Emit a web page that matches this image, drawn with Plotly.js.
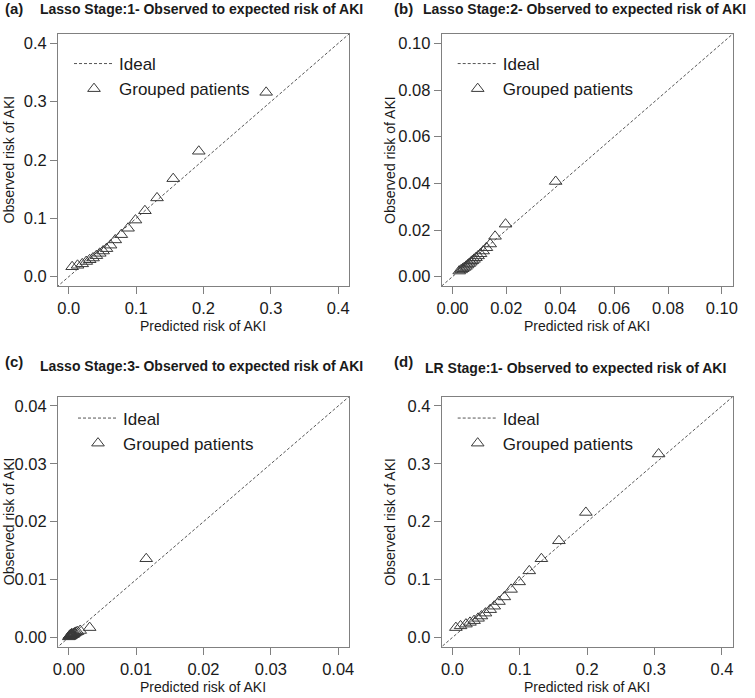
<!DOCTYPE html>
<html>
<head>
<meta charset="utf-8">
<script src="https://cdn.plot.ly/plotly-3.0.1.min.js"></script>
<style>
  html, body { margin: 0; padding: 0; background: #fff; }
  #chart { width: 755px; height: 698px; }
</style>
</head>
<body>
<div id="chart"></div>
<script>
// --- data ---
// (a) Lasso stage 1
const lasso1Pred = [0.005, 0.013, 0.020, 0.026, 0.031, 0.036, 0.041, 0.046, 0.051, 0.056, 0.062, 0.069, 0.078, 0.088, 0.099, 0.113, 0.131, 0.155, 0.193, 0.293];
const lasso1Obs  = [0.017, 0.0195, 0.022, 0.026, 0.029, 0.032, 0.036, 0.040, 0.044, 0.048, 0.054, 0.063, 0.072, 0.083, 0.097, 0.113, 0.135, 0.168, 0.215, 0.316];

// (b) Lasso stage 2
const lasso2Pred = [0.0025, 0.0032, 0.0038, 0.0044, 0.0050, 0.0056, 0.0062, 0.0068, 0.0074, 0.0080, 0.0087, 0.0095, 0.0104, 0.0114, 0.0126, 0.0140, 0.0158, 0.0197, 0.0383];
const lasso2Obs  = [0.0024, 0.0029, 0.0034, 0.0039, 0.0044, 0.0050, 0.0056, 0.0062, 0.0068, 0.0074, 0.0081, 0.0089, 0.0098, 0.0110, 0.0124, 0.0140, 0.0173, 0.0225, 0.0408];

// (c) Lasso stage 3
const lasso3Pred = [0.0000, 0.0001, 0.0001, 0.0002, 0.0002, 0.0003, 0.0003, 0.0004, 0.0004, 0.0005, 0.0005, 0.0006, 0.0007, 0.0008, 0.0009, 0.0011, 0.0013, 0.0017, 0.0031, 0.0115];
const lasso3Obs  = [0.0001, 0.0002, 0.0003, 0.0002, 0.0004, 0.0003, 0.0005, 0.0004, 0.0006, 0.0005, 0.0006, 0.0005, 0.0006, 0.0007, 0.0008, 0.0009, 0.0010, 0.0012, 0.0017, 0.0136];

// (d) LR stage 1
const lr1Pred = [0.005, 0.012, 0.020, 0.026, 0.032, 0.038, 0.043, 0.049, 0.056, 0.062, 0.069, 0.077, 0.087, 0.099, 0.114, 0.132, 0.158, 0.198, 0.306];
const lr1Obs  = [0.017, 0.020, 0.023, 0.026, 0.029, 0.033, 0.037, 0.042, 0.048, 0.054, 0.062, 0.070, 0.083, 0.096, 0.115, 0.136, 0.167, 0.216, 0.317];

// ideal y = x line, clipped by the plot area
const ideal = [-1, 1];

const panelLabels = ['(a)', '(b)', '(c)', '(d)'];
const panelTitles = [
    'Lasso Stage:1- Observed to expected risk of AKI',
    'Lasso Stage:2- Observed to expected risk of AKI',
    'Lasso Stage:3- Observed to expected risk of AKI',
    'LR Stage:1- Observed to expected risk of AKI'
];
const axisMax = [0.4, 0.1, 0.04, 0.4];
const axisStep = [0.1, 0.02, 0.01, 0.1];
const tickFormats = ['.1f', '.2f', '.2f', '.1f'];
const xTitle = 'Predicted risk of AKI';
const yTitle = 'Observed risk of AKI';

// --- layout helpers ---
const W = 755, H = 698;
const FONT = 'Liberation Sans, Arial, sans-serif';
const frame = '#808080';
const ink = '#1a1a1a';

// plot boxes in pixels: [left, right, top, bottom]
const boxes = [
    [58, 349, 34, 286],
    [441.7, 732.7, 34, 286],
    [58, 349, 396.7, 646.7],
    [441.7, 732.7, 396.7, 646.7]
];

function axis(i, isX) {
    const b = boxes[i];
    const pad = axisMax[i] * 0.04;
    const n = i + 1;
    return {
        domain: isX ? [b[0] / W, b[1] / W] : [1 - b[3] / H, 1 - b[2] / H],
        anchor: (isX ? 'y' : 'x') + (n === 1 ? '' : n),
        range: [-pad, axisMax[i] + pad],
        tick0: 0,
        dtick: axisStep[i],
        tickformat: tickFormats[i],
        ticks: 'outside',
        ticklen: 7,
        tickwidth: 1,
        tickcolor: frame,
        showline: true,
        mirror: true,
        linecolor: frame,
        linewidth: 1,
        showgrid: false,
        zeroline: false,
        fixedrange: true,
        tickfont: { family: FONT, size: 16.5, color: ink }
    };
}

const series = [
    [lasso1Pred, lasso1Obs],
    [lasso2Pred, lasso2Obs],
    [lasso3Pred, lasso3Obs],
    [lr1Pred, lr1Obs]
];

const data = [];
const layout = {
    width: W,
    height: H,
    margin: { l: 0, r: 0, t: 0, b: 0 },
    paper_bgcolor: '#ffffff',
    plot_bgcolor: '#ffffff',
    font: { family: FONT, color: ink },
    annotations: [],
    showlegend: true
};

series.forEach(([pred, obs], i) => {
    const n = i + 1;
    const sfx = n === 1 ? '' : n;
    const legendId = 'legend' + sfx;
    data.push({
        x: ideal, y: ideal,
        xaxis: 'x' + sfx, yaxis: 'y' + sfx,
        type: 'scatter', mode: 'lines',
        name: 'Ideal',
        legend: legendId,
        line: { color: '#555555', width: 1, dash: '3px,2px' },
        hoverinfo: 'skip'
    });
    data.push({
        x: pred, y: obs,
        xaxis: 'x' + sfx, yaxis: 'y' + sfx,
        type: 'scatter', mode: 'markers',
        name: 'Grouped patients',
        legend: legendId,
        marker: { symbol: 'triangle-up-open', size: 11, color: '#3a3a3a', line: { width: 1 } }
    });

    layout['xaxis' + sfx] = axis(i, true);
    layout['yaxis' + sfx] = axis(i, false);

    const b = boxes[i];
    const topRow = i < 2;
    layout[legendId] = {
        x: (b[0] + (i === 2 ? 15 : 11)) / W,
        y: 1 - (topRow ? 46 : 400.5) / H,
        xanchor: 'left',
        yanchor: 'top',
        bgcolor: 'rgba(0,0,0,0)',
        borderwidth: 0,
        itemwidth: 40,
        tracegroupgap: 0,
        font: { family: FONT, size: 17, color: ink }
    };

    const cx = (b[0] + b[1]) / 2;
    const cy = (b[2] + b[3]) / 2;
    // axis titles
    layout.annotations.push({
        text: xTitle, xref: 'paper', yref: 'paper',
        x: cx / W, y: 1 - (b[3] + 40) / H,
        xanchor: 'center', yanchor: 'middle', showarrow: false,
        font: { family: FONT, size: 14, color: ink }
    });
    layout.annotations.push({
        text: yTitle, xref: 'paper', yref: 'paper',
        x: (i % 2 === 0 ? 8.5 : 390) / W, y: 1 - cy / H,
        xanchor: 'center', yanchor: 'middle', textangle: -90, showarrow: false,
        font: { family: FONT, size: 14, color: ink }
    });
    // panel label and title
    const lblX = i % 2 === 0 ? 3 : 391.5;
    const ttlX = i % 2 === 0 ? 38.3 : (i === 3 ? 423.3 : 421);
    const lblY = topRow ? 9 : 361;
    const ttlY = topRow ? 9 : (i === 3 ? 368 : 366);
    layout.annotations.push({
        text: '<b>' + panelLabels[i] + '</b>', xref: 'paper', yref: 'paper',
        x: lblX / W, y: 1 - lblY / H,
        xanchor: 'left', yanchor: 'middle', showarrow: false,
        font: { family: FONT, size: 15, color: ink }
    });
    layout.annotations.push({
        text: '<b>' + panelTitles[i] + '</b>', xref: 'paper', yref: 'paper',
        x: ttlX / W, y: 1 - ttlY / H,
        xanchor: 'left', yanchor: 'middle', showarrow: false,
        font: { family: FONT, size: 14, color: ink }
    });
});

Plotly.newPlot('chart', data, layout, { displayModeBar: false, staticPlot: true });
</script>
</body>
</html>
